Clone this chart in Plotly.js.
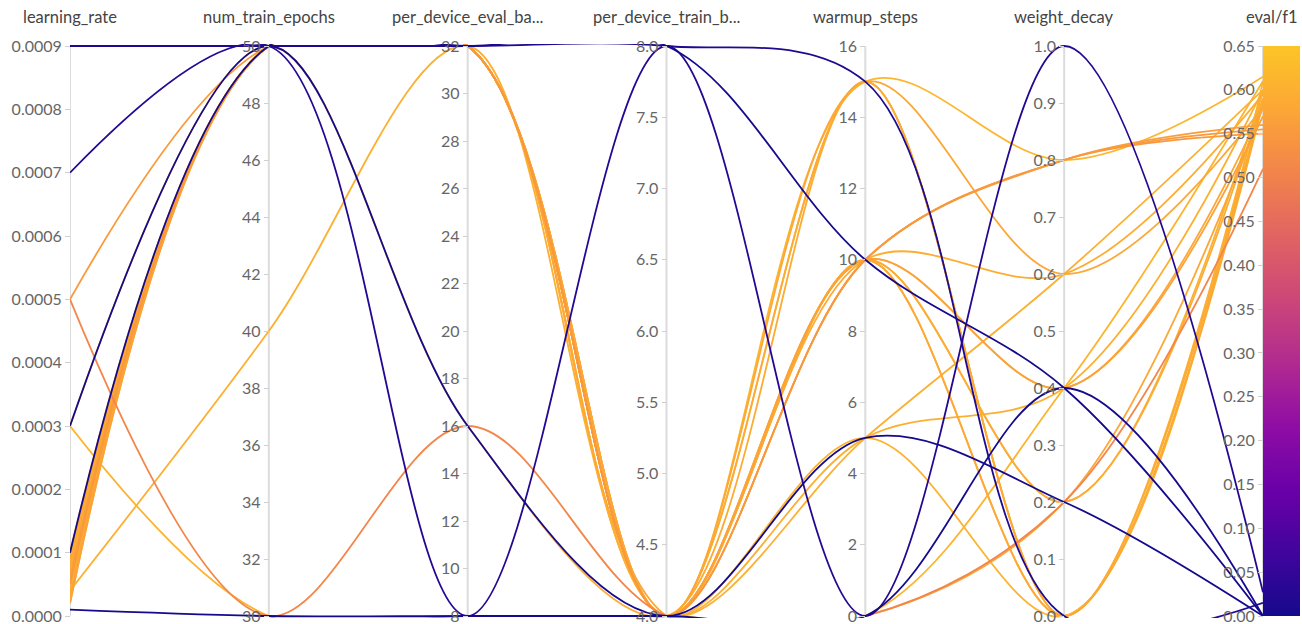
<!DOCTYPE html>
<html>
<head>
<meta charset="utf-8">
<script src="https://cdn.plot.ly/plotly-3.0.1.min.js"></script>
<style>html,body{margin:0;padding:0;background:#fff;}#chart{width:1302px;height:624px;}</style>
</head>
<body>
<div id="chart"></div>
<script>
// ---- data (one entry per run) ----
const dimensionNames = ["learning_rate", "num_train_epochs", "per_device_eval_ba...", "per_device_train_b...", "warmup_steps", "weight_decay", "eval/f1"];
const learningRate   = [0.0009, 0.0001, 0.0007, 0.00001, 0.0003, 0.0003, 0.0005, 0.0003, 0.0005, 0.00004, 0.0001, 0.00009, 0.00008, 0.00007, 0.00006, 0.00005, 0.00004, 0.00003, 0.00002, 0.00009, 0.00007, 0.00005, 0.00003, 0.00002, 0.00006, 0.00008];
const numTrainEpochs = [50, 50, 50, 30, 50, 50, 30, 30, 50, 40, 50, 50, 50, 50, 50, 50, 50, 50, 50, 50, 50, 50, 50, 50, 50, 50];
const evalBatch      = [32, 32, 8, 8, 16, 16, 16, 8, 32, 32, 32, 32, 32, 32, 32, 32, 32, 32, 32, 32, 32, 32, 32, 32, 32, 32];
const trainBatch     = [8, 8, 8, 4, 4, 4, 4, 4, 4, 4, 4, 4, 4, 4, 4, 4, 4, 4, 4, 4, 4, 4, 4, 4, 4, 4];
const warmupSteps    = [15, 10, 0, 0, 5, 15, 0, 0, 10, 5, 15, 15, 15, 15, 10, 10, 10, 10, 10, 10, 10, 10, 5, 5, 0, 10];
const weightDecay    = [0.0, 0.4, 1.0, 0.4, 0.2, 0.0, 0.2, 0.4, 0.8, 0.6, 0.8, 0.6, 0.0, 0.0, 0.8, 0.8, 0.6, 0.4, 0.4, 0.2, 0.2, 0.0, 0.4, 0.0, 0.2, 0.0];
const evalF1         = [0.015, 0.0, 0.027, 0.0, 0.0, 0.59, 0.51, 0.61, 0.555, 0.60, 0.615, 0.58, 0.60, 0.59, 0.56, 0.55, 0.595, 0.58, 0.57, 0.60, 0.59, 0.585, 0.60, 0.61, 0.58, 0.59];

// axis ranges / ticks per dimension
const dimRanges  = [[0, 0.0009], [30, 50], [8, 32], [4, 8], [0, 16], [0, 1], [0, 0.65]];
const dimDticks  = [0.0001, 2, 2, 0.5, 2, 0.1, 0.05];
const dimFormats = [".4f", "d", "d", ".1f", "d", ".1f", ".2f"];

// ---- geometry / styling ----
const W = 1302, H = 624;
const axisTop = 46, axisBottom = 616, axisLeft = 70, axisRight = 1263;
const span = axisBottom - axisTop;
const padPx = 2;                       // keeps lines lying on an axis end fully visible
const pad = padPx / span;
const marginT = axisTop - padPx, marginB = H - axisBottom - padPx;
const plotH = H - marginT - marginB;

const colorStops = [
  [0.0, "#150a8c"], [0.111, "#41049d"], [0.222, "#6a00a8"], [0.333, "#8f0da4"],
  [0.444, "#b12a90"], [0.556, "#cc4778"], [0.667, "#e16462"], [0.778, "#f2844b"],
  [0.889, "#fca636"], [1.0, "#fdc527"]
];
function hexToRgb(h){return [parseInt(h.slice(1,3),16),parseInt(h.slice(3,5),16),parseInt(h.slice(5,7),16)];}
function colorFor(v){
  const t = Math.max(0, Math.min(1, (v - dimRanges[6][0]) / (dimRanges[6][1] - dimRanges[6][0])));
  for (let i = 1; i < colorStops.length; i++) {
    if (t <= colorStops[i][0]) {
      const a = colorStops[i-1], b = colorStops[i];
      const f = (t - a[0]) / (b[0] - a[0]);
      const ca = hexToRgb(a[1]), cb = hexToRgb(b[1]);
      return "rgb(" + ca.map((c, k) => Math.round(c + (cb[k] - c) * f)).join(",") + ")";
    }
  }
  return colorStops[colorStops.length-1][1];
}

const columns = [learningRate, numTrainEpochs, evalBatch, trainBatch, warmupSteps, weightDecay, evalF1];
const nDims = columns.length;
const nRuns = evalF1.length;

// draw high-f1 runs first so low-f1 runs sit on top
const order = [...Array(nRuns).keys()].sort((a, b) => evalF1[b] - evalF1[a]);

const traces = [];
order.forEach(r => {
  const xs = [], ys = [];
  for (let d = 0; d < nDims; d++) {
    const [lo, hi] = dimRanges[d];
    xs.push(d);
    ys.push((columns[d][r] - lo) / (hi - lo));
  }
  traces.push({
    type: "scatter", mode: "lines", x: xs, y: ys,
    line: {shape: "spline", smoothing: 1, color: colorFor(evalF1[r]), width: 1.8},
    hoverinfo: "skip", showlegend: false
  });
});

// colour bar, aligned to the eval/f1 axis
const cbCenterPaper = (H - marginB - (axisTop + axisBottom) / 2) / plotH;
traces.push({
  type: "scatter", mode: "markers", x: [0], y: [-10], hoverinfo: "skip", showlegend: false,
  marker: {
    color: [0], cmin: dimRanges[6][0], cmax: dimRanges[6][1], size: 1,
    colorscale: colorStops, showscale: true,
    colorbar: {x: 1, xanchor: "left", xpad: 0, ypad: 0, y: cbCenterPaper, yanchor: "middle",
               len: span, lenmode: "pixels", thickness: 37, outlinewidth: 0,
               showticklabels: false, ticks: ""}
  }
});

const layout = {
  width: W, height: H,
  margin: {l: axisLeft, r: W - axisRight, t: marginT, b: marginB, autoexpand: false},
  paper_bgcolor: "#fff", plot_bgcolor: "rgba(0,0,0,0)",
  showlegend: false, hovermode: false,
  font: {family: "Lato, 'Open Sans', sans-serif", size: 16, color: "#666"},
  xaxis: {range: [0, nDims - 1], visible: false, fixedrange: true},
  yaxis: {range: [-pad, 1 + pad], visible: false, fixedrange: true},
  annotations: [], shapes: []
};

const titleY = 1 + (marginT - 17) / plotH;
for (let d = 0; d < nDims; d++) {
  const [lo, hi] = dimRanges[d];
  const key = "yaxis" + (d + 2);
  layout[key] = {
    overlaying: "y", anchor: "free", position: d / (nDims - 1), side: "left",
    range: [lo - pad * (hi - lo), hi + pad * (hi - lo)],
    dtick: dimDticks[d], tick0: lo, tickformat: dimFormats[d],
    showline: false, ticklabeloverflow: "allow",
    ticks: "outside", ticklen: 5, tickcolor: "#d0d0d0", tickwidth: 1,
    tickfont: {size: 16, color: "#666"},
    showgrid: false, zeroline: false, fixedrange: true
  };
  traces.push({type: "scatter", mode: "lines", x: [null], y: [null], yaxis: "y" + (d + 2),
               hoverinfo: "skip", showlegend: false});
  layout.shapes.push({type: "line", xref: "x", yref: "y", x0: d, x1: d, y0: 0, y1: 1,
                      layer: "below", line: {color: "#dcdcdc", width: 2}});
  layout.annotations.push({
    text: dimensionNames[d], xref: "x", yref: "paper", x: d, y: titleY,
    xanchor: d === nDims - 1 ? "right" : "center", yanchor: "middle", showarrow: false,
    font: {size: 16.5, color: "#444"}, xshift: d === nDims - 1 ? 37 : 0
  });
}

Plotly.newPlot("chart", traces, layout, {displayModeBar: false, staticPlot: true});
</script>
</body>
</html>
